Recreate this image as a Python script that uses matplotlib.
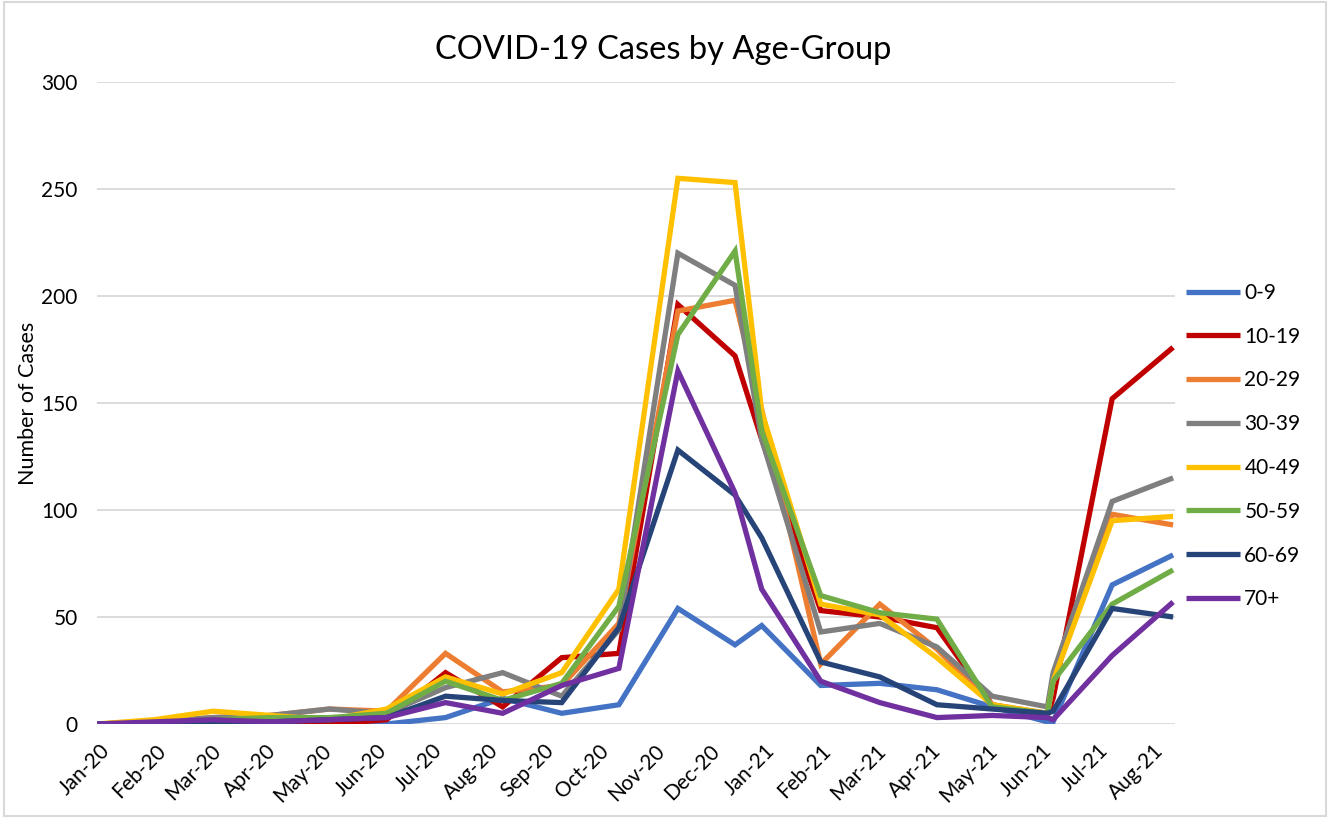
import numpy as np
import matplotlib
matplotlib.use("Agg")
import matplotlib.pyplot as plt
from matplotlib.patches import Rectangle

# 1. data (x = days since 1 Jan 2020)
x_days = [0, 30, 61, 91, 122, 152, 183, 213, 244, 274, 305, 335,
          349, 380, 411, 441, 470, 499, 502, 533, 565]

age_0_9 = [0, 0, 1, 2, 3, 0, 3, 12, 5, 9, 54, 37, 46, 18, 19, 16, 8, 1, 1, 65, 79]
age_10_19 = [0, 0, 1, 1, 0, 2, 24, 8, 31, 33, 196, 172, 133, 53, 50, 45, 9, 4, 12, 152, 176]
age_20_29 = [0, 1, 3, 4, 7, 6, 33, 15, 18, 47, 193, 198, 147, 28, 56, 35, 9, 5, 20, 98, 93]
age_30_39 = [0, 1, 3, 4, 7, 5, 17, 24, 13, 44, 220, 205, 133, 43, 47, 36, 13, 8, 24, 104, 115]
age_40_49 = [0, 2, 6, 4, 2, 7, 22, 14, 24, 63, 255, 253, 146, 56, 51, 31, 9, 5, 20, 95, 97]
age_50_59 = [0, 0, 2, 3, 3, 5, 20, 11, 19, 55, 182, 221, 137, 60, 52, 49, 8, 5, 20, 56, 72]
age_60_69 = [0, 0, 1, 1, 2, 3, 13, 11, 10, 45, 128, 107, 87, 29, 22, 9, 7, 5, 6, 54, 50]
age_70_plus = [0, 1, 2, 1, 2, 3, 10, 5, 18, 26, 165, 108, 63, 20, 10, 3, 4, 3, 2, 32, 57]

tick_labels = ["Jan-20", "Feb-20", "Mar-20", "Apr-20", "May-20", "Jun-20", "Jul-20",
               "Aug-20", "Sep-20", "Oct-20", "Nov-20", "Dec-20", "Jan-21", "Feb-21",
               "Mar-21", "Apr-21", "May-21", "Jun-21", "Jul-21", "Aug-21"]

series = [
    ("0-9", age_0_9, "#4472C4"),
    ("10-19", age_10_19, "#C00000"),
    ("20-29", age_20_29, "#ED7D31"),
    ("30-39", age_30_39, "#7F7F7F"),
    ("40-49", age_40_49, "#FFC000"),
    ("50-59", age_50_59, "#70AD47"),
    ("60-69", age_60_69, "#264478"),
    ("70+", age_70_plus, "#7030A0"),
]

plt.rcParams['font.family'] = ['Lato', 'DejaVu Sans']

# 2. figure
fig = plt.figure(figsize=(13.3, 8.18), dpi=100)
ax = fig.add_axes([97 / 1330, 1 - 724 / 818, (1175 - 97) / 1330, (724 - 82) / 818])

for name, vals, col in series:
    ax.plot(x_days, vals, color=col, linewidth=3.8, label=name,
            solid_joinstyle='miter', solid_capstyle='butt')

# 3. axes styling
ax.set_xlim(0, 566)
ax.set_ylim(0, 300)
ax.set_yticks(np.arange(0, 301, 50))
ax.yaxis.grid(True, color='#d9d9d9', linewidth=1.3)
ax.set_axisbelow(True)
for s in ax.spines.values():
    s.set_visible(False)
ax.tick_params(axis='both', length=0, labelsize=15, colors='#000000')
ax.tick_params(axis='y', pad=14)

tick_pos = 1.5 + 29.1 * np.arange(len(tick_labels))
ax.set_xticks(tick_pos)
ax.set_xticklabels(tick_labels, rotation=45, ha='right', rotation_mode='anchor')
ax.tick_params(axis='x', pad=12)

ax.set_ylabel("Number of Cases", fontsize=15.5, labelpad=2)
fig.text(663 / 1330, 1 - 50 / 818, "COVID-19 Cases by Age-Group", fontsize=23.5,
         ha='center', va='center')

ax.legend(loc='upper left', bbox_to_anchor=(1186 / 1330, 1 - 283 / 818),
          bbox_transform=fig.transFigure, frameon=False, fontsize=15,
          handlelength=2.6, handletextpad=0.2, labelspacing=1.14,
          borderpad=0, borderaxespad=0)

# chart border
fig.patches.append(Rectangle((0.003, 0.003), 0.994, 0.994, transform=fig.transFigure,
                             fill=False, edgecolor='#d9d9d9', linewidth=1.5))

fig.savefig("out.png", dpi=100)
